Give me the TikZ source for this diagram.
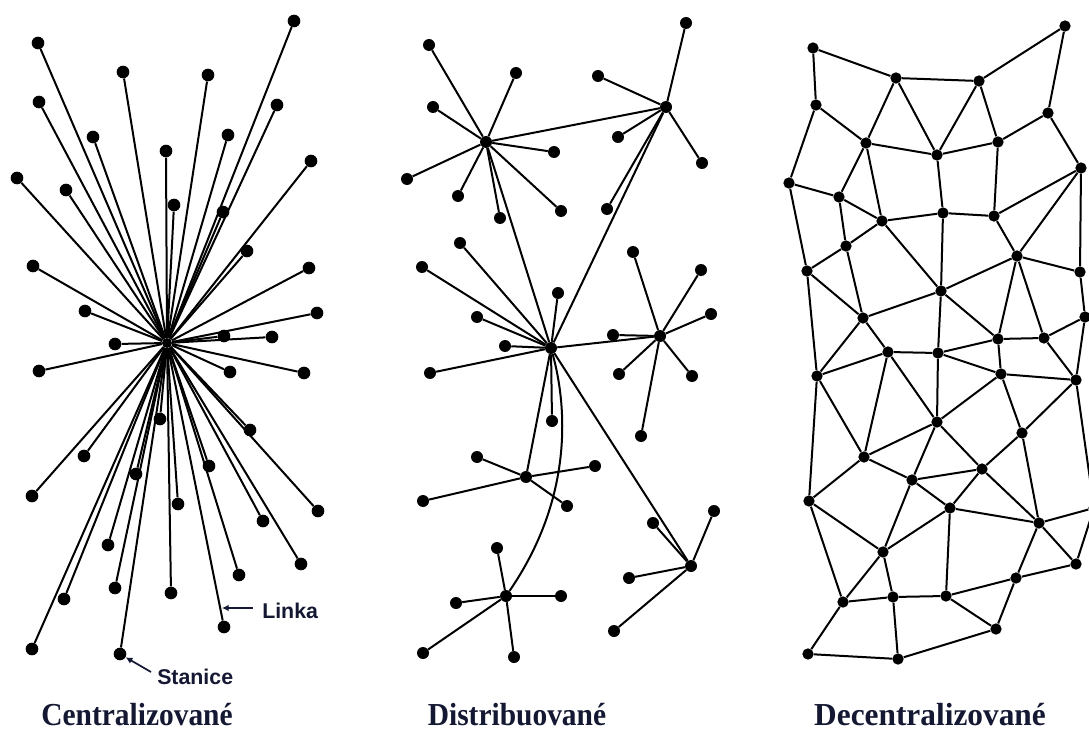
\documentclass[tikz,border=0pt]{standalone}
\usepackage{fontspec}
\usepackage{graphicx}
\setmainfont{Liberation Serif}
\newfontfamily\labelfont{Liberation Sans}
\usetikzlibrary{arrows.meta}
\definecolor{ink}{RGB}{20,24,50}
\tikzset{
  ldot/.style={circle,fill=black,inner sep=0pt,minimum size=9.5pt},
  mdot/.style={circle,fill=black,inner sep=0pt,minimum size=9pt},
  hdot/.style={circle,fill=black,inner sep=0pt,minimum size=7.5pt},
  rdot/.style={circle,fill=black,inner sep=0pt,minimum size=8.5pt},
  link/.style={line width=1.5pt,black},
  pointer/.style={line width=1.3pt,ink,-{Latex[length=5pt,width=5pt]}},
  smalllabel/.style={font=\labelfont\bfseries\fontsize{16pt}{18pt}\selectfont,text=ink,inner sep=0pt},
  title/.style={font=\bfseries\fontsize{24pt}{28pt}\selectfont,text=ink,inner sep=0pt,anchor=base}
}
\begin{document}
\begin{tikzpicture}[x=0.75pt,y=-0.75pt]
\fill[white] (0,0) rectangle (1089,738);
\useasboundingbox (0,0) rectangle (1089,738);

% ---------------- Centralised ----------------
\node[hdot] (hubL) at (167,343) {};
\foreach \n/\x/\y in {1/38/43,2/123/72,3/208/75,4/294/21,5/39/102,6/277/105,7/93/137,8/228/135,
  9/166/151,10/311/161,11/17/178,12/66/190,13/174/205,14/223/212,15/247/251,16/33/266,17/309/268,
  18/85/311,19/317/313,20/224/336,21/272/337,22/115/344,23/39/371,24/230/372,25/304/373,26/160/419,
  27/250/430,28/84/456,29/136/474,30/209/466,31/32/496,32/178/504,33/263/521,34/318/511,35/108/545,
  36/301/564,37/239/575,38/115/588,39/171/593,40/64/599,41/224/627,42/32/649,43/120/654}
  \node[ldot] (l\n) at (\x,\y) {};
\foreach \i in {1,...,43} \draw[link] (hubL) -- (l\i);

\node[smalllabel,anchor=west] (linka) at (262,611) {Linka};
\coordinate (linkaTail) at (253,608);
\coordinate (linkaTip) at (222,608);
\draw[pointer] (linkaTail) -- (linkaTip);
\node[smalllabel,anchor=west] (stanice) at (157,677) {Stanice};
\coordinate (stanTail) at (151,672);
\draw[pointer] (stanTail) -- (l43);

% ---------------- Distributed (middle) ----------------
\foreach \n/\x/\y in {A/486/142,B/666/107,C/551/348,D/660/336,E/526/477,F/506/596,G/691/566}
  \node[mdot] (\n) at (\x,\y) {};
\foreach \n/\x/\y in {a1/429/45,a2/516/73,a3/433/107,a4/554/152,a5/407/179,a6/458/196,a7/500/218,a8/561/211,
  b1/686/23,b2/598/76,b3/618/137,b4/702/163,b5/607/209,
  c1/460/243,c2/422/267,c3/477/317,c4/558/293,c5/505/346,c6/430/373,c7/552/421,
  d1/633/252,d2/701/270,d3/711/314,d4/613/335,d5/619/374,d6/692/376,d7/641/436,
  e1/477/457,e2/595/466,e3/423/501,e4/567/506,
  f1/497/548,f2/561/596,f3/456/603,f4/423/653,f5/514/657,
  g1/714/511,g2/653/523,g3/629/578,g4/614/631}
  \node[mdot] (\n) at (\x,\y) {};
\foreach \h/\l in {A/a1,A/a2,A/a3,A/a4,A/a5,A/a6,A/a7,A/a8,
  B/b1,B/b2,B/b3,B/b4,B/b5,
  C/c1,C/c2,C/c3,C/c4,C/c5,C/c6,C/c7,
  D/d1,D/d2,D/d3,D/d4,D/d5,D/d6,D/d7,
  E/e1,E/e2,E/e3,E/e4,
  F/f1,F/f2,F/f3,F/f4,F/f5,
  G/g1,G/g2,G/g3,G/g4,
  A/B,A/C,B/C,C/D,C/E,C/G}
  \draw[link] (\h) -- (\l);
\draw[link] (C) .. controls (568,410) and (572,500) .. (F);

% ---------------- Decentralised (right) ----------------
\foreach \n/\x/\y in {1/813/48,2/896/78,3/979/81,4/1065/26,5/816/105,6/866/143,7/937/155,8/998/142,
  9/1048/113,10/1081/168,11/789/183,12/839/197,13/882/221,14/943/213,15/994/216,16/846/246,17/807/271,
  18/1017/256,19/1080/272,20/941/291,21/863/318,22/998/339,23/1044/338,24/1085/317,25/888/352,26/938/353,
  27/817/376,28/1001/374,29/1076/380,30/937/422,31/1022/433,32/864/457,33/912/480,34/982/469,35/809/501,
  36/950/508,37/1039/523,38/1094/508,39/883/552,40/1076/564,41/1016/578,42/843/602,43/893/597,44/946/596,
  45/996/629,46/808/654,47/898/659}
  \node[rdot] (r\n) at (\x,\y) {};
\foreach \a/\b in {1/2,1/5,2/3,3/4,4/9,2/6,2/7,3/7,3/8,5/6,5/11,6/7,7/8,8/9,9/10,6/12,6/13,7/14,8/15,
  11/12,11/17,12/13,12/16,13/14,14/15,15/10,10/18,10/19,15/18,13/16,13/20,14/20,16/17,16/21,17/21,
  18/20,18/19,18/22,18/23,19/24,20/21,20/22,20/26,22/23,23/24,21/25,21/27,17/27,24/29,22/28,23/29,
  25/26,26/22,26/28,26/30,25/27,25/32,25/30,27/32,27/35,28/29,28/30,28/31,29/31,29/38,30/32,30/33,
  30/34,31/34,31/37,32/33,32/35,33/34,33/36,33/39,34/36,34/37,35/39,35/42,36/39,36/37,36/44,37/38,
  37/40,37/41,38/40,39/42,39/43,40/41,41/44,41/45,42/43,42/46,43/44,43/47,44/45,45/47,46/47}
  \draw[link] (r\a) -- (r\b);

% ---------------- Titles ----------------
\node[title] (t1) at (137,725) {\scalebox{0.92}[1]{Centralizované}};
\node[title] (t2) at (517,725) {\scalebox{0.92}[1]{Distribuované}};
\node[title] (t3) at (930,725) {\scalebox{0.98}[1]{Decentralizované}};
\end{tikzpicture}
\end{document}
